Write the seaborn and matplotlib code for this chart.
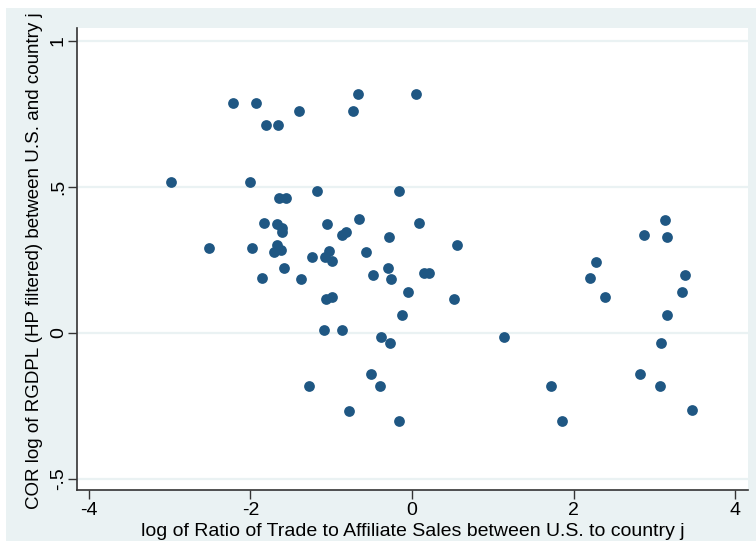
import matplotlib
matplotlib.use("Agg")
import matplotlib.pyplot as plt
import seaborn as sns
import pandas as pd
from matplotlib.patches import Rectangle

# log ratio of trade to affiliate sales (U.S. vs country j)
trade_affiliate_ratio = [
    -2.986, -2.512, -2.212, -2.005, -1.980, -1.931, -1.856, -1.828, -1.807, -1.708,
    -1.671, -1.621, -1.671, -1.613, -1.605, -1.655, -1.642, -1.559, -1.584, -1.395,
    -1.374, -1.278, -1.241, -1.176, -1.089, -1.077, -1.058, -1.061, -1.031, -0.986,
    -0.990, -0.866, -0.823, -0.866, -0.776, -0.726, -0.672, -0.650, -0.566, -0.511,
    -0.486, -0.387, -0.392, -0.297, -0.287, -0.269, -0.254, -0.163, -0.161, -0.121,
    -0.052, 0.052, 0.087, 0.152, 0.207, 0.522, 0.553, 1.141, 1.726, 1.859,
    2.199, 2.273, 2.385, 2.816, 2.871, 3.069, 3.078, 3.131, 3.150, 3.156,
    3.338, 3.375, 3.469,
]

# correlation of HP-filtered log RGDPL between U.S. and country j
gdp_correlation = [
    0.517, 0.290, 0.786, 0.517, 0.290, 0.786, 0.187, 0.376, 0.712, 0.277,
    0.302, 0.284, 0.371, 0.360, 0.346, 0.712, 0.462, 0.462, 0.221, 0.760,
    0.184, -0.182, 0.258, 0.486, 0.008, 0.258, 0.371, 0.117, 0.281, 0.246,
    0.123, 0.335, 0.345, 0.008, -0.267, 0.761, 0.817, 0.388, 0.276, -0.140,
    0.197, -0.014, -0.183, 0.221, 0.329, -0.036, 0.183, -0.303, 0.486, 0.061,
    0.139, 0.817, 0.375, 0.203, 0.203, 0.116, 0.302, -0.014, -0.182, -0.303,
    0.188, 0.243, 0.124, -0.140, 0.336, -0.183, -0.036, 0.387, 0.329, 0.061,
    0.138, 0.197, -0.266,
]

x_ticks = [-4, -2, 0, 2, 4]
x_tick_labels = ["-4", "-2", "0", "2", "4"]
y_ticks = [-0.5, 0, 0.5, 1]
y_tick_labels = ["-.5", "0", ".5", "1"]

x_title = "log of Ratio of Trade to Affiliate Sales between U.S. to country j"
y_title = "COR log of RGDPL (HP filtered) between U.S. and country j"

df = pd.DataFrame({"ratio": trade_affiliate_ratio, "cor": gdp_correlation})

sns.set_theme(style="white")
plt.rcParams["font.family"] = ["Liberation Sans", "DejaVu Sans"]

W, H = 756, 541
fig = plt.figure(figsize=(W / 100, H / 100), dpi=100, facecolor="white")

# graph region background
bg = "#EAF2F3"
fig.patches.append(Rectangle((6 / W, 0), 1 - 6 / W, 1 - 8 / H,
                             transform=fig.transFigure, facecolor=bg,
                             edgecolor="none", zorder=-10))

ax = fig.add_axes([77 / W, 1 - 490 / H, (748 - 77) / W, (490 - 28) / H])
ax.set_facecolor("white")

sns.scatterplot(data=df, x="ratio", y="cor", ax=ax, color="#1F5783",
                s=60, linewidth=0, zorder=3)

ax.set_xlim(-4.146, 4.158)
ax.set_ylim(-0.539, 1.044)

for yv in y_ticks:
    ax.axhline(yv, color=bg, lw=1.6, zorder=1)

fs = 14
ax.set_xticks(x_ticks)
ax.set_xticklabels(x_tick_labels, fontsize=fs, color="black")
ax.set_yticks(y_ticks)
ax.set_yticklabels(y_tick_labels, fontsize=fs, color="black",
                   rotation=90, va="center")

ax.tick_params(axis="both", which="major", direction="out", length=6.3,
               width=1.0, color="#333333", bottom=True, left=True)
ax.tick_params(axis="x", pad=2.5)
ax.tick_params(axis="y", pad=1.0)

for side in ["top", "right"]:
    ax.spines[side].set_visible(False)
for side in ["left", "bottom"]:
    ax.spines[side].set_color("#333333")
    ax.spines[side].set_linewidth(1.2)

ax.set_xlabel(x_title, fontsize=fs, color="black")
ax.set_ylabel(y_title, fontsize=13.5, color="black")
ax.xaxis.label.set_va("center")
ax.yaxis.label.set_va("center")
ax.xaxis.set_label_coords(0.5, (490 - 532) / 462)
ax.yaxis.set_label_coords((35 - 77) / 671, (490 - 261) / 462)

fig.savefig("out.png", dpi=100, facecolor="white")
